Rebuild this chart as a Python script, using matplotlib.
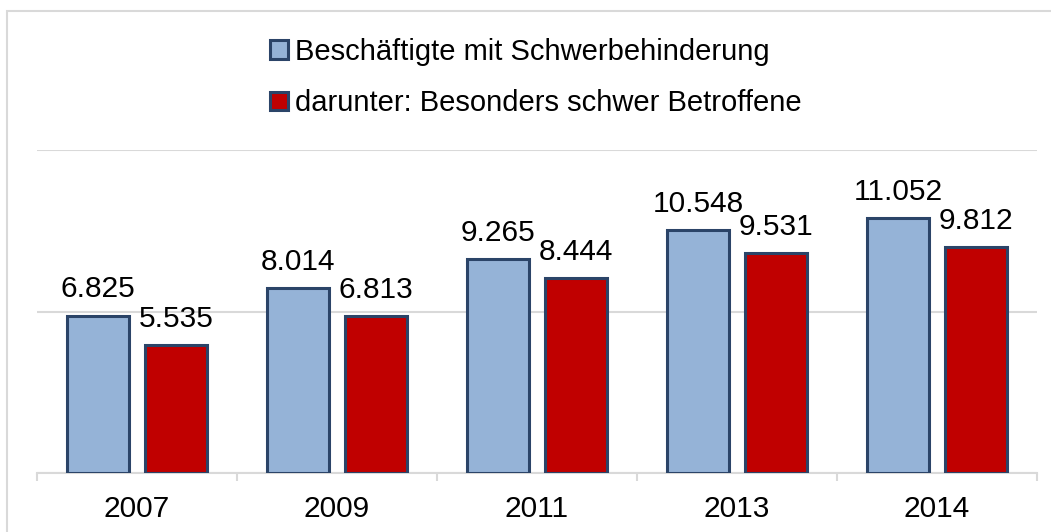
import matplotlib
matplotlib.use("Agg")
import matplotlib.pyplot as plt
from matplotlib.patches import Rectangle
import numpy as np

plt.rcParams['font.family'] = ['Liberation Sans', 'DejaVu Sans']

years = ["2007", "2009", "2011", "2013", "2014"]
beschaeftigte = [6.825, 8.014, 9.265, 10.548, 11.052]
besonders_betroffene = [5.535, 6.813, 8.444, 9.531, 9.812]
series_names = ["Beschäftigte mit Schwerbehinderung",
                "darunter: Besonders schwer Betroffene"]

W, H = 1051, 532
fig = plt.figure(figsize=(W / 100, H / 100), dpi=100)
fig.patch.set_facecolor("white")

# outer chart frame (runs off the right and bottom edges)
fig.patches.append(Rectangle((7 / W, -0.1), 1.2, (H - 11) / H + 0.1,
                             transform=fig.transFigure, fill=False,
                             edgecolor="#D9D9D9", linewidth=1.5))

ax = fig.add_axes([37 / W, (H - 473) / H, 1000 / W, 323 / H])

x = np.arange(len(years))
bw = 0.31
off = 0.195
edge = "#2B4468"
b1 = ax.bar(x - off, beschaeftigte, bw, color="#95B3D7", edgecolor=edge,
            linewidth=2.2, label=series_names[0], zorder=3)
b2 = ax.bar(x + off, besonders_betroffene, bw, color="#C00000", edgecolor=edge,
            linewidth=2.2, label=series_names[1], zorder=3)

for bars, vals in ((b1, beschaeftigte), (b2, besonders_betroffene)):
    for rect, v in zip(bars, vals):
        ax.annotate(f"{v:.3f}", (rect.get_x() + rect.get_width() / 2, v),
                    xytext=(0, 13), textcoords="offset points",
                    ha="center", va="baseline", fontsize=21.5, color="black")

ax.set_xlim(-0.5, len(years) - 0.5)
ax.set_ylim(0, 14)
ax.set_yticks([0, 7, 14])
ax.yaxis.grid(True, color="#D9D9D9", linewidth=1.5, zorder=0)
ax.tick_params(axis="y", left=False, labelleft=False)
for s in ("left", "right", "top"):
    ax.spines[s].set_visible(False)
ax.spines["bottom"].set_color("#D9D9D9")
ax.spines["bottom"].set_linewidth(1.5)

ax.set_xticks(x)
ax.set_xticklabels(years, fontsize=21.5)
ax.set_xticks(np.arange(-0.5, len(years)), minor=True)
ax.tick_params(axis="x", which="major", length=0, pad=16)
ax.tick_params(axis="x", which="minor", length=6, width=1.5, color="#D9D9D9")

leg = fig.legend(handles=[b1, b2], loc="upper left",
                 bbox_to_anchor=(270 / W, 1 - 38 / H),
                 frameon=False, fontsize=21, handlelength=0.6,
                 handleheight=0.6, handletextpad=0.25, labelspacing=0.8,
                 borderpad=0, borderaxespad=0)

fig.savefig("out.png", dpi=100, facecolor="white")
